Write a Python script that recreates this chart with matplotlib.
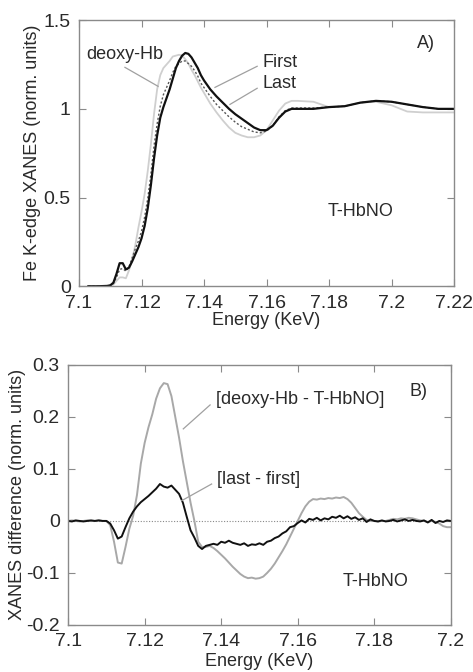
import numpy as np
import matplotlib
matplotlib.use('Agg')
import matplotlib.pyplot as plt
from matplotlib.ticker import FuncFormatter

plt.rcParams['font.family'] = ['Liberation Sans', 'DejaVu Sans']

#### Panel A: XANES spectra ####
energyA = [7.103, 7.106, 7.109, 7.110, 7.111, 7.112, 7.113, 7.114, 7.115, 7.116,
           7.117, 7.118, 7.119, 7.120, 7.121, 7.122, 7.123, 7.124, 7.125, 7.126,
           7.127, 7.128, 7.129, 7.130, 7.131, 7.132, 7.133, 7.134, 7.135, 7.136,
           7.137, 7.138, 7.139, 7.140, 7.142, 7.144, 7.146, 7.148, 7.150, 7.152,
           7.154, 7.156, 7.158, 7.160, 7.162, 7.164, 7.166, 7.168, 7.170, 7.175,
           7.180, 7.185, 7.190, 7.195, 7.200, 7.205, 7.210, 7.215, 7.220]

first = [0.0, 0.0, 0.002, 0.005, 0.02, 0.07, 0.13, 0.13, 0.095, 0.105,
         0.14, 0.18, 0.22, 0.27, 0.34, 0.44, 0.57, 0.72, 0.85, 0.95,
         1.01, 1.06, 1.11, 1.17, 1.23, 1.27, 1.30, 1.315, 1.31, 1.29,
         1.26, 1.23, 1.19, 1.16, 1.11, 1.07, 1.035, 1.0, 0.97, 0.945,
         0.92, 0.895, 0.88, 0.88, 0.905, 0.95, 0.985, 1.0, 1.0, 1.0,
         1.01, 1.015, 1.035, 1.045, 1.04, 1.025, 1.01, 1.0, 1.0]

last = [0.0, 0.0, 0.002, 0.005, 0.015, 0.05, 0.095, 0.10, 0.085, 0.11,
        0.16, 0.21, 0.255, 0.31, 0.39, 0.495, 0.63, 0.79, 0.915, 1.015,
        1.08, 1.12, 1.16, 1.205, 1.24, 1.255, 1.27, 1.27, 1.255, 1.24,
        1.215, 1.185, 1.145, 1.12, 1.07, 1.025, 0.99, 0.955, 0.925, 0.90,
        0.885, 0.87, 0.865, 0.875, 0.905, 0.955, 0.99, 1.005, 1.005, 1.005,
        1.01, 1.015, 1.035, 1.045, 1.04, 1.025, 1.01, 1.0, 1.0]

deoxy = [0.0, 0.0, 0.002, 0.005, 0.01, 0.03, 0.05, 0.05, 0.045, 0.09,
         0.15, 0.23, 0.33, 0.42, 0.52, 0.65, 0.80, 0.97, 1.11, 1.19,
         1.23, 1.25, 1.27, 1.295, 1.30, 1.305, 1.30, 1.28, 1.255, 1.22,
         1.19, 1.155, 1.12, 1.09, 1.03, 0.98, 0.935, 0.895, 0.865, 0.85,
         0.84, 0.84, 0.85, 0.88, 0.935, 0.99, 1.03, 1.045, 1.045, 1.04,
         1.01, 1.015, 1.035, 1.04, 1.02, 0.985, 0.98, 0.98, 0.98]

#### Panel B: difference spectra (1 eV steps, 7.100 ... 7.200) ####
energyB = np.round(np.arange(7.100, 7.2005, 0.001), 3)

diff_deoxy = [0.000, 0.001, 0.000, -0.001, 0.000, 0.001, 0.000, 0.000, 0.001, 0.000,
              0.000, -0.008, -0.040, -0.080, -0.082, -0.050, -0.015, 0.010, 0.050, 0.110,
              0.150, 0.180, 0.205, 0.235, 0.255, 0.265, 0.263, 0.240, 0.200, 0.160,
              0.115, 0.075, 0.035, 0.000, -0.040, -0.050, -0.050, -0.048, -0.052, -0.058,
              -0.065, -0.072, -0.080, -0.088, -0.095, -0.102, -0.107, -0.110, -0.109, -0.111,
              -0.110, -0.107, -0.100, -0.092, -0.082, -0.070, -0.058, -0.045, -0.030, -0.015,
              0.000, 0.015, 0.028, 0.037, 0.042, 0.041, 0.043, 0.042, 0.044, 0.043,
              0.045, 0.044, 0.046, 0.042, 0.035, 0.025, 0.015, 0.008, 0.002, 0.000,
              0.000, -0.001, 0.000, 0.000, 0.002, 0.004, 0.003, 0.005, 0.004, 0.006,
              0.005, 0.003, 0.001, 0.000, -0.002, 0.000, -0.002, -0.005, -0.010, -0.012,
              -0.012]

diff_last = [0.000, -0.001, 0.001, 0.000, -0.001, 0.000, 0.001, 0.000, 0.001, 0.000,
             0.000, -0.005, -0.018, -0.034, -0.030, -0.012, 0.005, 0.018, 0.028, 0.036,
             0.042, 0.048, 0.055, 0.062, 0.071, 0.066, 0.064, 0.068, 0.060, 0.052,
             0.035, 0.008, -0.018, -0.032, -0.048, -0.054, -0.048, -0.046, -0.044, -0.046,
             -0.040, -0.042, -0.038, -0.042, -0.044, -0.046, -0.043, -0.048, -0.045, -0.046,
             -0.043, -0.046, -0.040, -0.038, -0.033, -0.030, -0.024, -0.020, -0.012, -0.010,
             -0.004, 0.001, -0.003, 0.004, 0.002, 0.006, 0.001, 0.005, 0.003, 0.008,
             0.006, 0.010, 0.005, 0.009, 0.004, 0.007, 0.002, 0.005, -0.002, 0.003,
             0.000, -0.001, 0.001, -0.001, 0.000, 0.002, -0.001, 0.001, 0.003, 0.000,
             0.002, 0.000, -0.001, 0.001, -0.003, 0.002, -0.004, 0.000, -0.002, 0.001,
             0.000]

frame_col = '#8a8a8a'
txt_col = '#2a2a2a'
tick_fs = 14
label_fs = 13
note_fs = 13


def style_axes(ax):
    for sp in ax.spines.values():
        sp.set_color(frame_col)
        sp.set_linewidth(1.0)
    ax.tick_params(direction='in', top=True, right=True, length=5, width=0.8,
                   color=frame_col, labelcolor=txt_col, labelsize=tick_fs)
    ax.tick_params(axis='x', pad=6)
    ax.tick_params(axis='y', pad=6)
    ax.xaxis.set_major_formatter(FuncFormatter(lambda v, p: '%g' % round(v, 3)))
    ax.yaxis.set_major_formatter(FuncFormatter(lambda v, p: '%g' % round(v, 3)))


fig = plt.figure(figsize=(4.73, 6.72), dpi=100)

# ---- A ----
axA = fig.add_axes([0.167, 0.574, 0.793, 0.396])
axA.plot(energyA, deoxy, color='#cfcfcf', lw=1.3)
axA.plot(energyA, last, color='#555555', lw=1.0, ls=(0, (1.5, 1.5)))
axA.plot(energyA, first, color='#111111', lw=1.6)
axA.set_xlim(7.1, 7.22)
axA.set_ylim(0, 1.5)
axA.set_xticks(np.arange(7.10, 7.2201, 0.02))
axA.set_yticks([0, 0.5, 1, 1.5])
style_axes(axA)
axA.set_xlabel('Energy (KeV)', fontsize=label_fs, color=txt_col, labelpad=0)
axA.set_ylabel('Fe K-edge XANES (norm. units)', fontsize=label_fs, color=txt_col, labelpad=2)

axA.text(7.1022, 1.308, 'deoxy-Hb', fontsize=note_fs, color=txt_col, va='center')
axA.plot([7.1147, 7.1253], [1.234, 1.127], color='#a0a0a0', lw=0.9)
axA.text(7.1586, 1.263, 'First', fontsize=note_fs, color=txt_col, va='center')
axA.plot([7.157, 7.1435], [1.24, 1.121], color='#a0a0a0', lw=0.9)
axA.text(7.1586, 1.144, 'Last', fontsize=note_fs, color=txt_col, va='center')
axA.plot([7.157, 7.1483], [1.116, 1.025], color='#a0a0a0', lw=0.9)
axA.text(7.2082, 1.37, 'A)', fontsize=note_fs, color=txt_col, va='center')
axA.text(7.1797, 0.421, 'T-HbNO', fontsize=note_fs, color=txt_col, va='center')

# ---- B ----
axB = fig.add_axes([0.144, 0.070, 0.809, 0.387])
axB.axhline(0, color='#888888', lw=0.8, ls=(0, (1, 1.5)))
axB.plot(energyB, diff_deoxy, color='#a8a8a8', lw=1.4)
axB.plot(energyB, diff_last, color='#111111', lw=1.4)
axB.set_xlim(7.1, 7.2)
axB.set_ylim(-0.2, 0.3)
axB.set_xticks(np.arange(7.10, 7.2001, 0.02))
axB.set_yticks([-0.2, -0.1, 0, 0.1, 0.2, 0.3])
style_axes(axB)
axB.set_xlabel('Energy (KeV)', fontsize=label_fs, color=txt_col, labelpad=2)
axB.set_ylabel('XANES difference (norm. units)', fontsize=label_fs, color=txt_col, labelpad=0)

axB.text(7.1386, 0.2327, '[deoxy-Hb - T-HbNO]', fontsize=note_fs, color=txt_col, va='center')
axB.plot([7.1371, 7.1301], [0.223, 0.177], color='#a0a0a0', lw=0.9)
axB.text(7.1388, 0.079, '[last - first]', fontsize=note_fs, color=txt_col, va='center')
axB.plot([7.1375, 7.1297], [0.071, 0.039], color='#a0a0a0', lw=0.9)
axB.text(7.1893, 0.248, 'B)', fontsize=note_fs, color=txt_col, va='center')
axB.text(7.1718, -0.117, 'T-HbNO', fontsize=note_fs, color=txt_col, va='center')

fig.savefig('out.png', dpi=100)
